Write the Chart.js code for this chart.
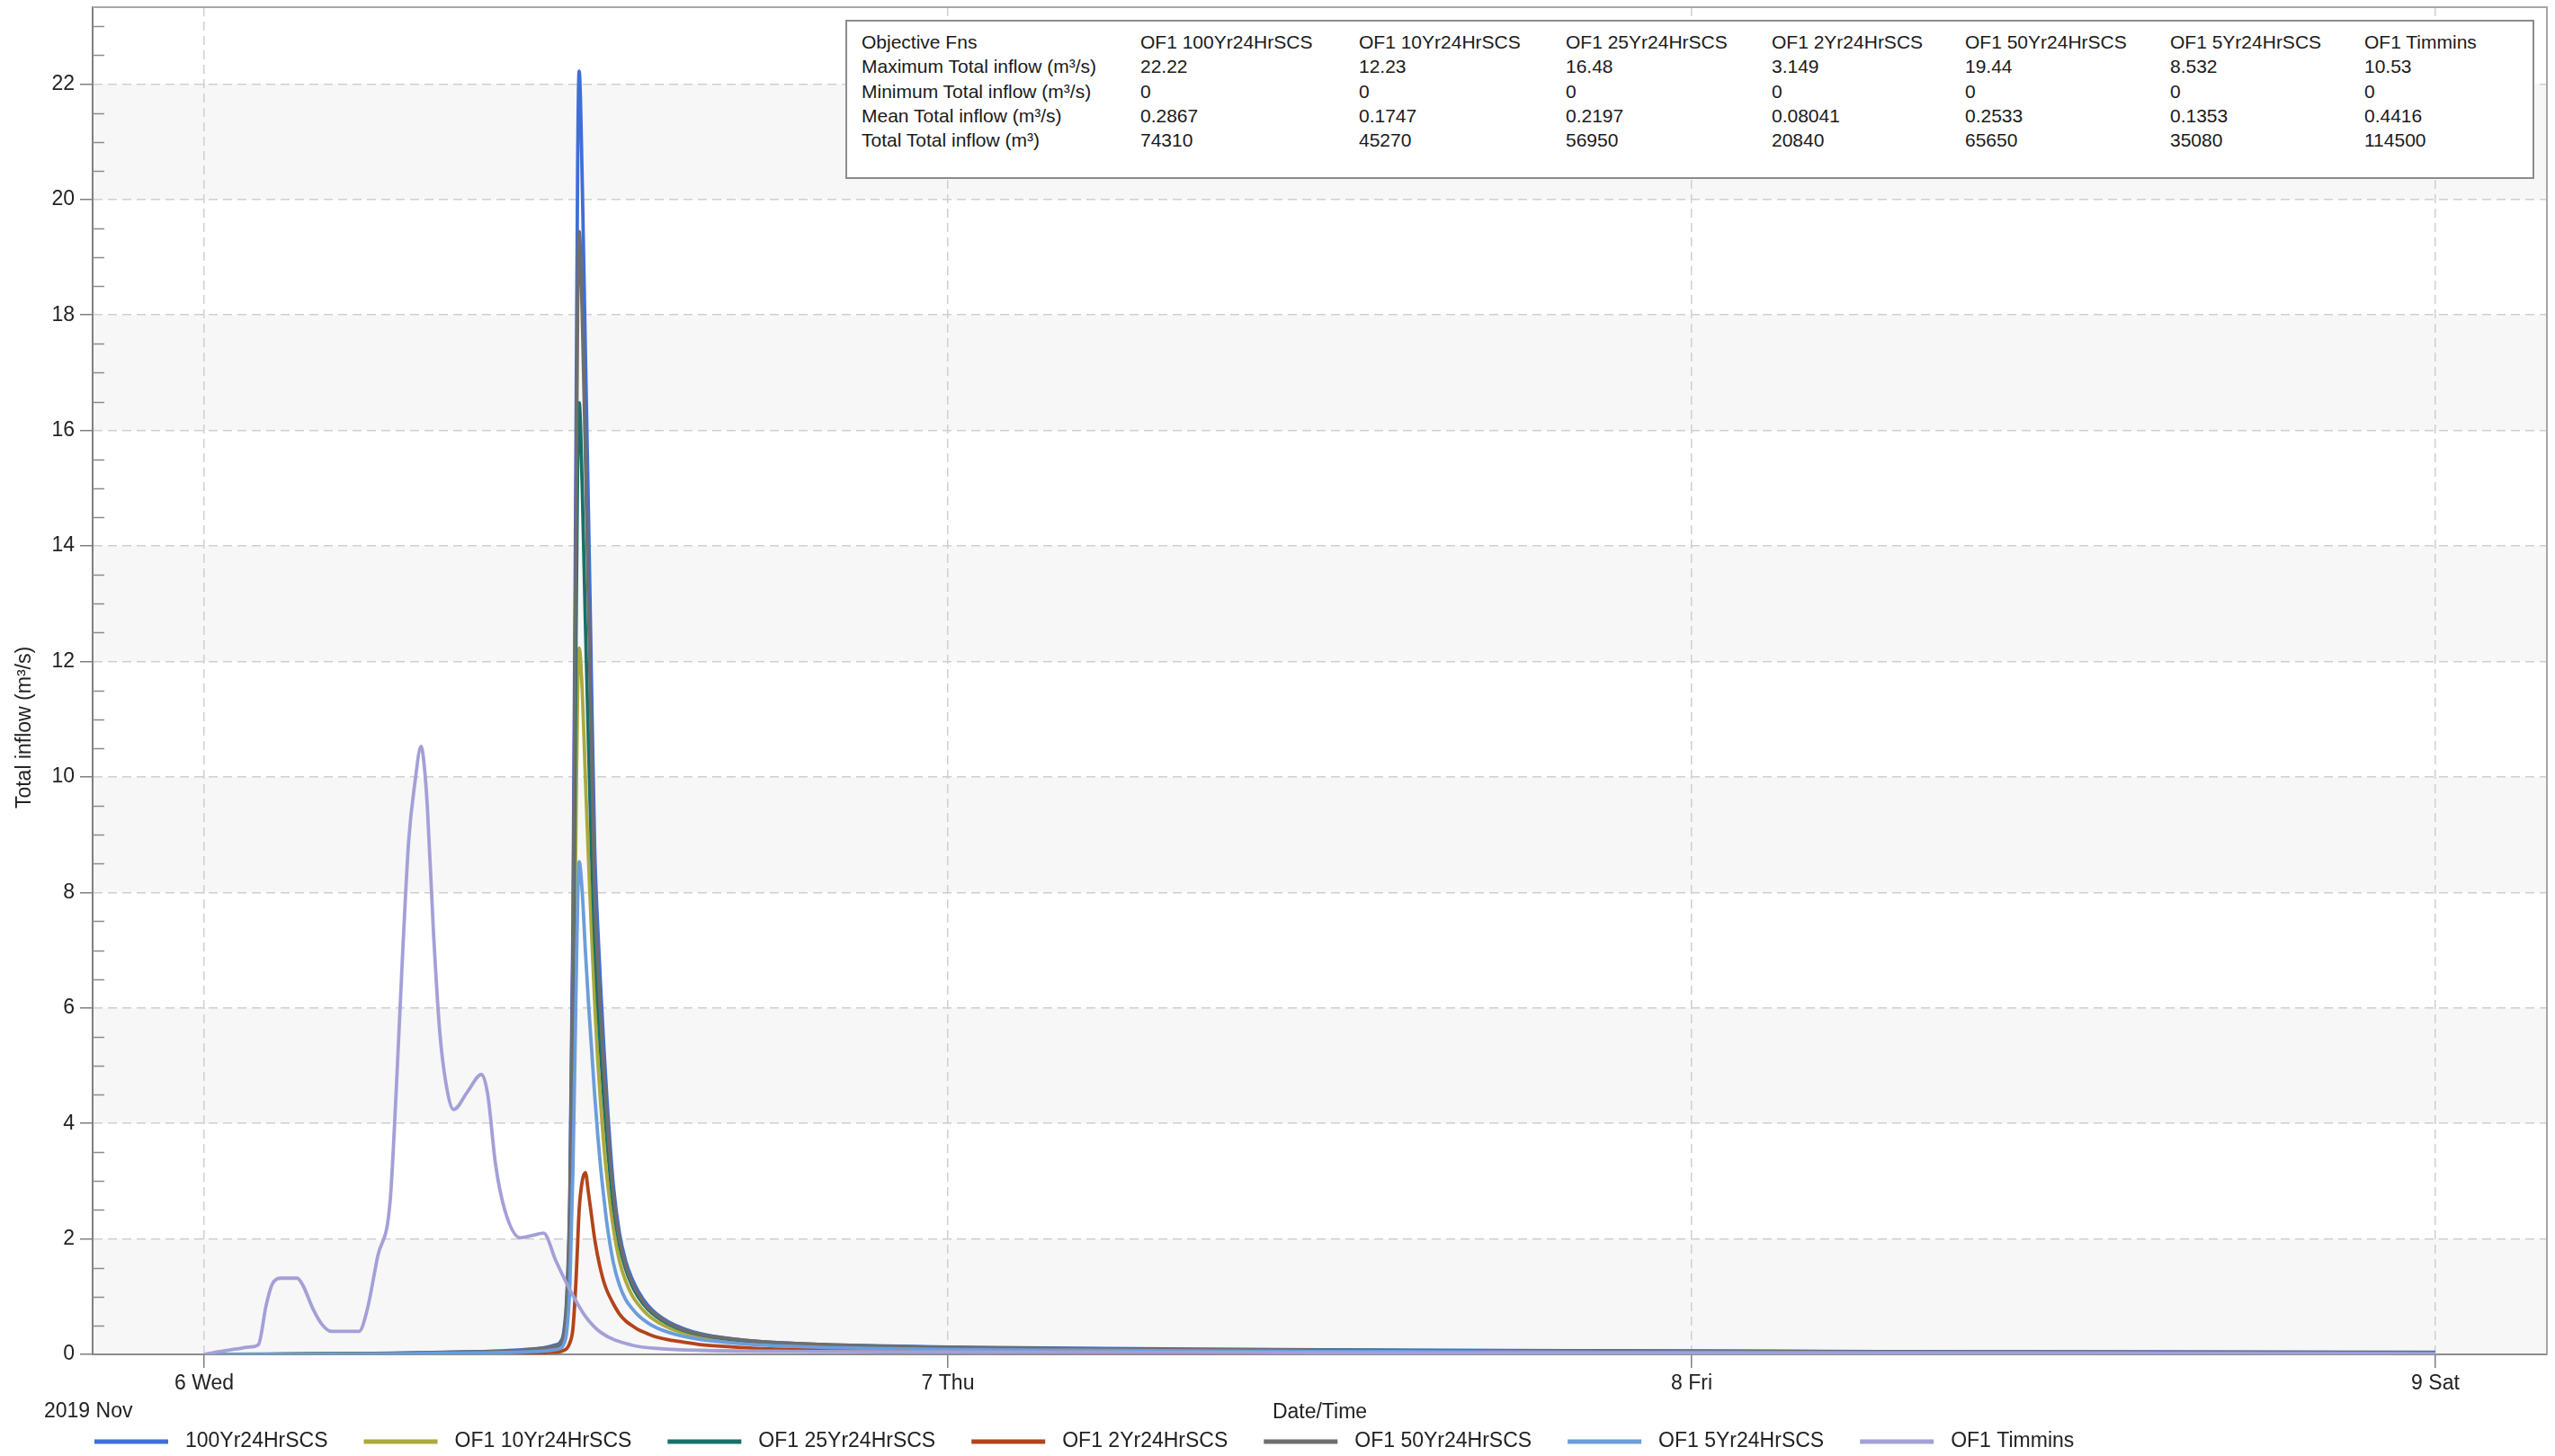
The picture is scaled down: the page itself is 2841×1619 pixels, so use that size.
<!DOCTYPE html>
<html>
<head>
<meta charset="utf-8">
<script src="https://cdn.jsdelivr.net/npm/chart.js@4.4.1/dist/chart.umd.min.js"></script>
<style>
  html, body { margin: 0; padding: 0; background: #ffffff; }
  #wrap { position: relative; width: 2841px; height: 1619px; overflow: hidden; }
  #c { position: absolute; left: 0; top: 0; }
  #stats { position: absolute; left: 940px; top: 22px; width: 1878px; height: 177px; box-sizing: border-box;
           border: 2px solid #8c8c8c; background: #ffffff;
           font-family: "Liberation Sans", Arial, sans-serif; font-size: 21px; color: #1a1a1a; }
  #stats table { position: absolute; left: 16px; top: 9px; border-collapse: collapse; table-layout: fixed; }
  #stats td { padding: 0; height: 27.3px; line-height: 27.3px; white-space: nowrap; }
</style>
</head>
<body>
<div id="wrap">
  <canvas id="c" width="2841" height="1619"></canvas>
  <div id="stats"></div>
</div>
<script>
// ---------------- data ----------------
const dayTickHours  = [0, 24, 48, 72];
const dayTickLabels = ['6 Wed', '7 Thu', '8 Fri', '9 Sat'];
const yTickStep = 2;

const seriesLabels = ['100Yr24HrSCS', 'OF1 10Yr24HrSCS', 'OF1 25Yr24HrSCS', 'OF1 2Yr24HrSCS',
                      'OF1 50Yr24HrSCS', 'OF1 5Yr24HrSCS', 'OF1 Timmins'];

// hours since 2019-11-06 00:00
const hoursSCS = [0, 2, 4, 6, 8, 9, 10, 10.5, 11, 11.3, 11.5, 11.6, 11.7, 11.8, 11.9,
                  12.0, 12.05, 12.1, 12.2, 12.3, 12.4, 12.5, 12.6, 12.7, 12.8, 12.9, 13.0,
                  13.2, 13.4, 13.6, 13.8, 14.0, 14.3, 14.6, 15.0, 15.5, 16, 17, 18, 20, 22,
                  24, 28, 32, 36, 40, 44, 48, 54, 60, 66, 72];

const flow100Yr = [0, 0.004, 0.01, 0.02, 0.04, 0.05, 0.07, 0.09, 0.12, 0.16, 0.22, 0.38, 1.0, 2.8, 7.5,
                   16.0, 20.5, 22.22, 20.3, 17.4, 14.6, 11.6, 8.8, 7.4, 6.3, 5.3, 4.4,
                   2.95, 2.1, 1.62, 1.32, 1.1, 0.86, 0.7, 0.56, 0.44, 0.36, 0.27, 0.22, 0.17, 0.145,
                   0.125, 0.105, 0.09, 0.08, 0.07, 0.065, 0.06, 0.05, 0.045, 0.04, 0.035];

const flow10Yr = [0, 0.002, 0.006, 0.012, 0.025, 0.03, 0.045, 0.06, 0.08, 0.11, 0.15, 0.24, 0.6, 1.8, 4.6,
                  9.3, 11.4, 12.23, 11.5, 10.0, 8.6, 7.3, 6.1, 5.1, 4.3, 3.6, 3.05,
                  2.2, 1.62, 1.27, 1.03, 0.87, 0.69, 0.57, 0.46, 0.37, 0.3, 0.23, 0.18, 0.14, 0.12,
                  0.1, 0.085, 0.07, 0.06, 0.05, 0.045, 0.04, 0.035, 0.03, 0.025, 0.02];

const flow25Yr = [0, 0.003, 0.008, 0.015, 0.03, 0.04, 0.055, 0.07, 0.1, 0.13, 0.18, 0.3, 0.8, 2.3, 6.0,
                  12.5, 15.3, 16.48, 15.0, 12.7, 10.6, 8.7, 7.2, 6.1, 5.2, 4.4, 3.7,
                  2.6, 1.9, 1.48, 1.2, 1.0, 0.79, 0.65, 0.52, 0.41, 0.34, 0.26, 0.21, 0.16, 0.13,
                  0.115, 0.095, 0.08, 0.07, 0.06, 0.055, 0.05, 0.04, 0.035, 0.03, 0.025];

const flow2Yr = [0, 0, 0, 0.005, 0.01, 0.01, 0.015, 0.02, 0.03, 0.04, 0.05, 0.07, 0.1, 0.2, 0.45,
                 1.3, 1.9, 2.5, 3.0, 3.149, 2.8, 2.4, 2.0, 1.7, 1.45, 1.25, 1.1,
                 0.88, 0.7, 0.58, 0.5, 0.43, 0.36, 0.3, 0.25, 0.21, 0.17, 0.13, 0.1, 0.08, 0.06,
                 0.05, 0.04, 0.03, 0.025, 0.02, 0.02, 0.015, 0.01, 0.01, 0.01, 0.005];

const flow50Yr = [0, 0.003, 0.009, 0.018, 0.035, 0.045, 0.06, 0.08, 0.11, 0.14, 0.2, 0.34, 0.9, 2.6, 7.0,
                  14.5, 18.0, 19.44, 18.0, 15.6, 13.0, 10.5, 8.0, 6.8, 5.8, 4.9, 4.1,
                  2.8, 2.0, 1.55, 1.25, 1.05, 0.82, 0.68, 0.54, 0.42, 0.35, 0.27, 0.22, 0.17, 0.14,
                  0.12, 0.1, 0.085, 0.075, 0.065, 0.06, 0.055, 0.045, 0.04, 0.035, 0.03];

const flow5Yr = [0, 0, 0.005, 0.01, 0.02, 0.025, 0.035, 0.045, 0.06, 0.08, 0.11, 0.17, 0.4, 1.2, 3.2,
                 6.3, 7.8, 8.532, 8.0, 7.0, 6.1, 5.3, 4.5, 3.8, 3.2, 2.7, 2.25,
                 1.6, 1.2, 0.95, 0.8, 0.68, 0.55, 0.46, 0.38, 0.31, 0.26, 0.2, 0.16, 0.12, 0.1,
                 0.085, 0.07, 0.06, 0.05, 0.045, 0.04, 0.035, 0.03, 0.025, 0.02, 0.015];

const hoursTimmins = [0, 0.5, 1.0, 1.5, 1.75, 2.0, 2.2, 2.5, 3.0, 3.2, 3.5, 3.8, 4.1, 5.0, 5.25,
                      5.6, 6.0, 6.2, 6.4, 6.6, 6.8, 7.0, 7.1, 7.2, 7.4, 7.6, 7.8, 8.05, 8.5, 8.95,
                      9.15, 9.4, 9.7, 10.2, 10.6, 10.95, 11.35, 11.8, 12.3, 12.8, 13.8, 14.7, 16, 20, 24,
                      36, 48, 60, 72];
const flowTimmins = [0, 0.05, 0.09, 0.13, 0.17, 0.85, 1.22, 1.32, 1.32, 1.18, 0.8, 0.52, 0.4, 0.4, 0.75,
                     1.7, 2.65, 4.6, 6.9, 8.9, 9.9, 10.53, 10.2, 9.5, 7.3, 5.6, 4.7, 4.24, 4.55, 4.85,
                     4.5, 3.3, 2.5, 2.02, 2.06, 2.1, 1.62, 1.12, 0.66, 0.38, 0.16, 0.1, 0.07, 0.05, 0.04,
                     0.03, 0.02, 0.02, 0.01];

// statistics table
const statHeader    = 'Objective Fns';
const statColumns   = ['OF1 100Yr24HrSCS', 'OF1 10Yr24HrSCS', 'OF1 25Yr24HrSCS', 'OF1 2Yr24HrSCS',
                       'OF1 50Yr24HrSCS', 'OF1 5Yr24HrSCS', 'OF1 Timmins'];
const statRowLabels = ['Maximum Total inflow (m³/s)', 'Minimum Total inflow (m³/s)',
                       'Mean Total inflow (m³/s)', 'Total Total inflow (m³)'];
const statMax   = ['22.22', '12.23', '16.48', '3.149', '19.44', '8.532', '10.53'];
const statMin   = ['0', '0', '0', '0', '0', '0', '0'];
const statMean  = ['0.2867', '0.1747', '0.2197', '0.08041', '0.2533', '0.1353', '0.4416'];
const statTotal = ['74310', '45270', '56950', '20840', '65650', '35080', '114500'];

// ---------------- styling ----------------
const FONT = '"Liberation Sans", Arial, sans-serif';
const TEXT = '#222222';
const colors = ['#3f6fd6', '#aca83c', '#17706b', '#b3441a', '#6e6e6e', '#6b9ddb', '#a3a0d8'];
const seriesHours = [hoursSCS, hoursSCS, hoursSCS, hoursSCS, hoursSCS, hoursSCS, hoursTimmins];
const seriesValues = [flow100Yr, flow10Yr, flow25Yr, flow2Yr, flow50Yr, flow5Yr, flowTimmins];

// ---------------- stats table (HTML) ----------------
(function buildTable() {
  const widths = [310, 243, 230, 229, 215, 228, 216, 180];
  const t = document.createElement('table');
  const cg = document.createElement('colgroup');
  widths.forEach(w => { const c = document.createElement('col'); c.style.width = w + 'px'; cg.appendChild(c); });
  t.appendChild(cg);
  const rows = [[statHeader, ...statColumns],
                [statRowLabels[0], ...statMax],
                [statRowLabels[1], ...statMin],
                [statRowLabels[2], ...statMean],
                [statRowLabels[3], ...statTotal]];
  rows.forEach(r => {
    const tr = document.createElement('tr');
    r.forEach(v => { const td = document.createElement('td'); td.textContent = v; tr.appendChild(td); });
    t.appendChild(tr);
  });
  document.getElementById('stats').appendChild(t);
})();

// ---------------- plugins ----------------
const decorPlugin = {
  id: 'decor',
  beforeDraw(chart) {
    const {ctx, chartArea: a, scales: {y}} = chart;
    ctx.save();
    ctx.fillStyle = '#f7f7f7';
    for (let v = 0; v < 22; v += 2 * yTickStep) {
      const top = y.getPixelForValue(v + yTickStep);
      const bot = y.getPixelForValue(v);
      ctx.fillRect(a.left, top, a.right - a.left, bot - top);
    }
    ctx.restore();
  },
  beforeDatasetsDraw(chart) {
    const {ctx, chartArea: a, scales: {y}} = chart;
    ctx.save();
    ctx.strokeStyle = '#8c8c8c';
    ctx.lineWidth = 1.5;
    ctx.beginPath();
    for (let v = 0.5; v < y.max; v += 0.5) {
      if (Math.abs(v % yTickStep) < 1e-6) continue;
      const py = Math.round(y.getPixelForValue(v)) + 0.5;
      ctx.moveTo(a.left, py);
      ctx.lineTo(a.left + 13, py);
    }
    ctx.stroke();
    // top and right frame
    ctx.strokeStyle = '#a6a6a6';
    ctx.lineWidth = 2;
    ctx.beginPath();
    ctx.moveTo(a.left, a.top);
    ctx.lineTo(a.right, a.top);
    ctx.lineTo(a.right, a.bottom);
    ctx.stroke();
    ctx.restore();
  },
  afterDraw(chart) {
    const {ctx} = chart;
    ctx.save();
    ctx.fillStyle = TEXT;
    ctx.font = '23px ' + FONT;
    // y-axis title
    ctx.save();
    ctx.translate(28, 809);
    ctx.rotate(-Math.PI / 2);
    ctx.textAlign = 'center';
    ctx.textBaseline = 'middle';
    ctx.fillText('Total inflow (m³/s)', 0, 0);
    ctx.restore();
    // date caption
    ctx.textAlign = 'left';
    ctx.textBaseline = 'middle';
    ctx.fillText('2019 Nov', 49, 1570);
    // legend
    let x = 105;
    const ly = 1603;
    chart.data.datasets.forEach(ds => {
      ctx.strokeStyle = ds.borderColor;
      ctx.lineWidth = 5;
      ctx.beginPath();
      ctx.moveTo(x, ly);
      ctx.lineTo(x + 82, ly);
      ctx.stroke();
      const tx = x + 82 + 19;
      ctx.fillStyle = TEXT;
      ctx.fillText(ds.label, tx, ly);
      x = tx + ctx.measureText(ds.label).width + 40;
    });
    ctx.restore();
  }
};

// ---------------- chart ----------------
const datasets = seriesLabels.map((label, i) => ({
  label,
  data: seriesHours[i].map((h, k) => ({x: h, y: seriesValues[i][k]})),
  borderColor: colors[i],
  backgroundColor: colors[i],
  borderWidth: 3.8,
  pointRadius: 0,
  cubicInterpolationMode: 'monotone',
  fill: false,
  order: seriesLabels.length - 1 - i
}));

new Chart(document.getElementById('c'), {
  type: 'line',
  data: {datasets},
  plugins: [decorPlugin],
  options: {
    responsive: false,
    animation: false,
    devicePixelRatio: 1,
    layout: {padding: {top: 8, right: 9, left: 0, bottom: 0}},
    plugins: {legend: {display: false}, tooltip: {enabled: false}},
    scales: {
      x: {
        type: 'linear',
        min: -3.6,
        max: 75.6,
        afterBuildTicks: s => { s.ticks = dayTickHours.map(v => ({value: v})); },
        afterFit: s => { s.height = 113; s.paddingLeft = 0; s.paddingRight = 0; },
        ticks: {
          callback: v => dayTickLabels[dayTickHours.indexOf(v)],
          font: {family: FONT, size: 23},
          color: TEXT,
          padding: 4,
          maxRotation: 0,
          autoSkip: false
        },
        grid: {color: '#cfcfcf', lineWidth: 1.5, tickColor: '#7f7f7f', tickLength: 15, tickWidth: 1.5},
        border: {display: true, color: '#8c8c8c', width: 2, dash: [10, 6]},
        title: {display: true, text: 'Date/Time', font: {family: FONT, size: 23}, color: TEXT,
                padding: {top: 0, bottom: 35}}
      },
      y: {
        min: 0,
        max: 23.33,
        afterFit: s => { s.width = 103; s.paddingTop = 0; s.paddingBottom = 0; },
        ticks: {
          stepSize: yTickStep,
          includeBounds: false,
          autoSkip: false,
          font: {family: FONT, size: 23},
          color: TEXT,
          padding: 6
        },
        grid: {color: '#cfcfcf', lineWidth: 1.5, tickColor: '#7f7f7f', tickLength: 14, tickWidth: 1.5},
        border: {display: true, color: '#808080', width: 2, dash: [10, 6]}
      }
    }
  }
});
</script>
</body>
</html>
